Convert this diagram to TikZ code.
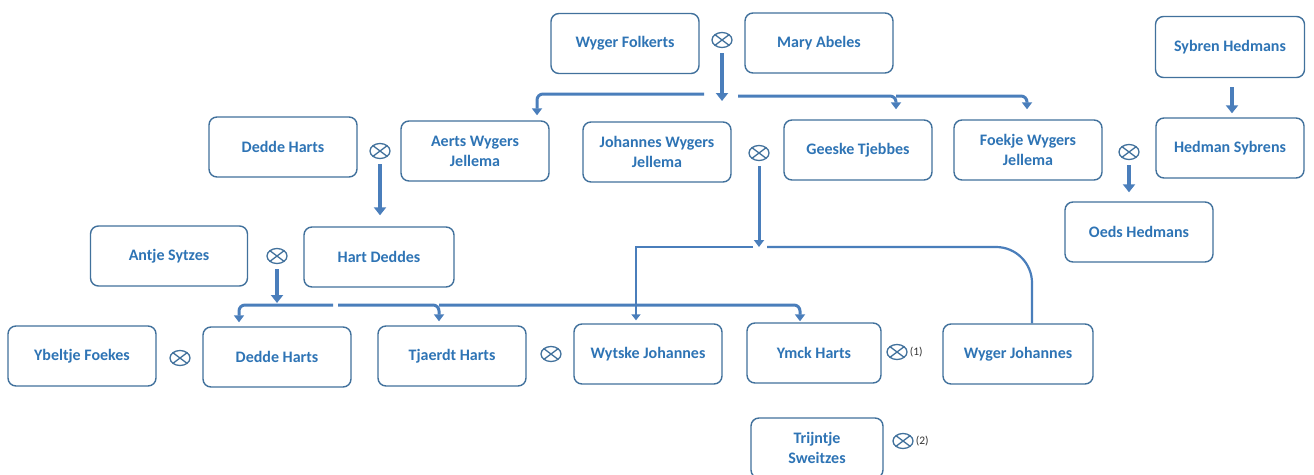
\documentclass[tikz,border=0pt]{standalone}
\usepackage{fontspec}
\setmainfont{Carlito}
\usetikzlibrary{arrows.meta,shapes.geometric}
\definecolor{boxc}{HTML}{41719C}
\definecolor{txtc}{HTML}{2E74B5}
\definecolor{linec}{HTML}{4A7EBB}
\begin{document}
\begin{tikzpicture}[x=1pt,y=-1pt,
  person/.style={draw=boxc, line width=1.4pt, rounded corners=8pt, minimum width=148pt,
    minimum height=60pt, align=center, text=txtc, inner sep=2pt,
    font=\bfseries\fontsize{16}{20}\selectfont},
  marry/.style={ellipse, draw=boxc, line width=1.3pt, minimum width=20pt, minimum height=15pt,
    inner sep=0pt, path picture={\draw[boxc, line width=1.3pt]
      (path picture bounding box.north west) -- (path picture bounding box.south east)
      (path picture bounding box.north east) -- (path picture bounding box.south west);}},
  note/.style={anchor=west, inner sep=1pt, text=black!80, font=\fontsize{11.5}{13}\selectfont},
  bigarrow/.style={draw=linec, line width=4.5pt, -{Triangle[width=12pt,length=8pt]}},
  midarrow/.style={draw=linec, line width=3pt, rounded corners=6pt, -{Triangle[width=10pt,length=7pt]}},
  thinline/.style={draw=linec, line width=2.2pt},
  thinarrow/.style={draw=linec, line width=2.2pt, -{Triangle[width=9pt,length=6pt]}}
]
\useasboundingbox (0,0) rectangle (1314,474);
\fill[white] (0,0) rectangle (1314,474);
\clip (0,0) rectangle (1314,474);

% persons
\node[person] (wf) at (625,43.5) {Wyger Folkerts};
\node[person] (ma) at (819,43) {Mary Abeles};
\node[person, minimum width=149pt, minimum height=61pt] (sybren) at (1230,47) {Sybren Hedmans};
\node[person] (dedde1) at (283,147) {Dedde Harts};
\node[person] (aerts) at (475,151) {Aerts Wygers\\Jellema};
\node[person] (johannes) at (657,152) {Johannes Wygers\\Jellema};
\node[person] (geeske) at (858,150) {Geeske Tjebbes};
\node[person] (foekje) at (1028,150) {Foekje Wygers\\Jellema};
\node[person] (hedman) at (1230,148) {Hedman Sybrens};
\node[person] (oeds) at (1139,232) {Oeds Hedmans};
\node[person, minimum width=157pt] (antje) at (169,256) {Antje Sytzes};
\node[person, minimum width=150pt] (hart) at (379,257) {Hart Deddes};
\node[person] (ybeltje) at (82,356) {Ybeltje Foekes};
\node[person] (dedde2) at (277,357) {Dedde Harts};
\node[person] (tjaerdt) at (452,356) {Tjaerdt Harts};
\node[person] (wytske) at (648,354) {Wytske Johannes};
\node[person, minimum width=134pt] (ymck) at (814,353) {Ymck Harts};
\node[person, minimum width=150pt] (wyger) at (1018,354) {Wyger Johannes};
\node[person, minimum width=132pt] (trijntje) at (817,448) {Trijntje\\Sweitzes};

% marriages
\node[marry] (m1) at (722,40) {};
\node[marry] (m2) at (380,151) {};
\node[marry] (m3) at (277,256) {};
\node[marry] (m4) at (759,153) {};
\node[marry] (m5) at (1129,152) {};
\node[marry] (m6) at (180,358) {};
\node[marry] (m7) at (551,354) {};
\node[marry] (m8) at (897,352) {};
\node[marry] (m9) at (903,441) {};
\node[note] (n1) at ([xshift=1pt]m8.east) {(1)};
\node[note] (n2) at ([xshift=1pt]m9.east) {(2)};

% junctions
\coordinate (jt) at (722,94);
\coordinate (jr) at (738,96);
\coordinate (aA) at ([xshift=62pt]aerts.north);
\coordinate (gA) at ([xshift=38pt]geeske.north);
\coordinate (fA) at ([xshift=-1pt]foekje.north);
\coordinate (jb) at (277,305);
\coordinate (dA) at ([xshift=-38pt]dedde2.north);
\coordinate (tA) at ([xshift=-13pt]tjaerdt.north);
\coordinate (yA) at ([xshift=-14pt]ymck.north);
\coordinate (jj) at (759,247);
\coordinate (wA) at ([xshift=-12pt]wytske.north);
\coordinate (wB) at ([xshift=14pt]wyger.north);
\coordinate (oA) at ([xshift=-10pt]oeds.north);
\coordinate (sA) at ([xshift=2pt]sybren.south);
\coordinate (hA) at ([xshift=2pt]hedman.north);

% connectors
\draw[bigarrow] ([yshift=-5pt]m1.south) -- ([yshift=-7pt]jt);
\draw[midarrow] ([xshift=-18pt]jt) -- (aA |- jt) -- ([yshift=5pt]aA);
\draw[midarrow] (jr) -- (gA |- jr) -- ([yshift=10pt]gA);
\draw[midarrow] (gA |- jr) -- (fA |- jr) -- ([yshift=10pt]fA);

\draw[bigarrow] ([yshift=-5pt]m2.south) -- ([yshift=11pt]hart.north -| m2.south);

\draw[bigarrow] ([yshift=-5pt]m3.south) -- ([yshift=2pt]jb);
\draw[midarrow] ([xshift=56pt]jb) -- (dA |- jb) -- ([yshift=4pt]dA);
\draw[midarrow] ([xshift=61pt]jb) -- (tA |- jb) -- ([yshift=4pt]tA);
\draw[midarrow] (tA |- jb) -- (yA |- jb) -- ([yshift=1pt]yA);

\draw[thinarrow, line width=3pt, -{Triangle[width=10pt,length=7pt]}] ([yshift=-5pt]m4.south) -- (jj);
\draw[thinarrow] ([xshift=-6pt]jj) -- (wA |- jj) -- ([yshift=3pt]wA);
\draw[thinline, rounded corners=36pt] ([xshift=8pt]jj) -- (wB |- jj) -- (wB);

\draw[bigarrow] ([yshift=-5pt]m5.south) -- ([yshift=9pt]oA);
\draw[bigarrow] ([yshift=-9pt]sA) -- ([yshift=4pt]hA);
\end{tikzpicture}
\end{document}
